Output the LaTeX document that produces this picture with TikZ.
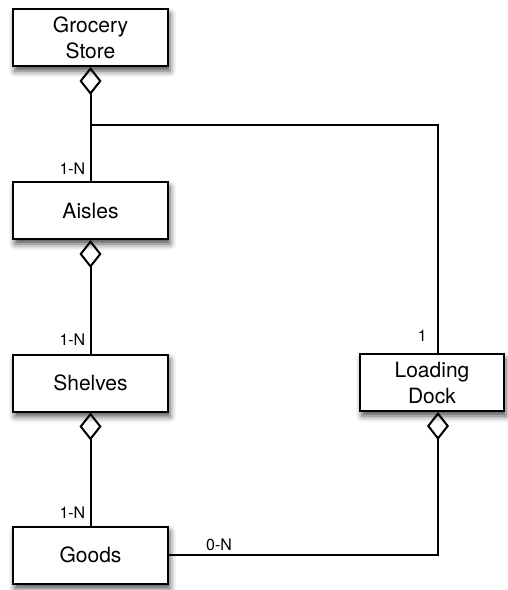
\documentclass[tikz,border=0pt]{standalone}
\usepackage{fontspec}
\setmainfont{TeX Gyre Heros}
\usetikzlibrary{arrows.meta,shadows.blur}

\begin{document}
\begin{tikzpicture}[x=1pt,y=-1pt,
  entity/.style={draw, line width=2pt, fill=white,
    minimum width=155pt, minimum height=57pt, inner sep=0pt,
    align=center, font=\fontsize{21}{26}\selectfont,
    blur shadow={shadow xshift=2pt, shadow yshift=-5pt,
      shadow blur radius=6pt, shadow opacity=70}},
  rel/.style={line width=2pt},
  agg/.style={rel, {Diamond[open, length=28pt, width=22pt]}-},
  card/.style={font=\fontsize{16}{18}\selectfont, inner sep=0pt}]
\useasboundingbox (0,0) rectangle (508,590);

% entities
\node[entity] (store)   at (90.5,37.5)  {Grocery\\Store};
\node[entity] (aisles)  at (90.5,210.5) {Aisles};
\node[entity] (shelves) at (90.5,383)   {Shelves};
\node[entity] (goods)   at (90.5,555)   {Goods};
\node[entity, minimum width=144pt] (dock) at (432,382.5) {Loading\\Dock};

% aggregations
\coordinate (split) at (90.5,125);
\draw[agg] (store.south) -- (aisles.north);
\draw[rel] (split) -| ([xshift=6pt]dock.north);
\draw[agg] (aisles.south) -- (shelves.north);
\draw[agg] (shelves.south) -- (goods.north);
\draw[agg] ([xshift=6pt]dock.south) |- (goods.east);

% cardinalities
\node[card, anchor=base east] (c1) at (85.5,174) {1-N};
\node[card, anchor=base east] (c2) at (85.5,345.5) {1-N};
\node[card, anchor=base east] (c3) at (85.5,518) {1-N};
\node[card, anchor=base west] (c4) at (206,550) {0-N};
\node[card, anchor=base east] (c5) at (427,341) {1};
\end{tikzpicture}
\end{document}
